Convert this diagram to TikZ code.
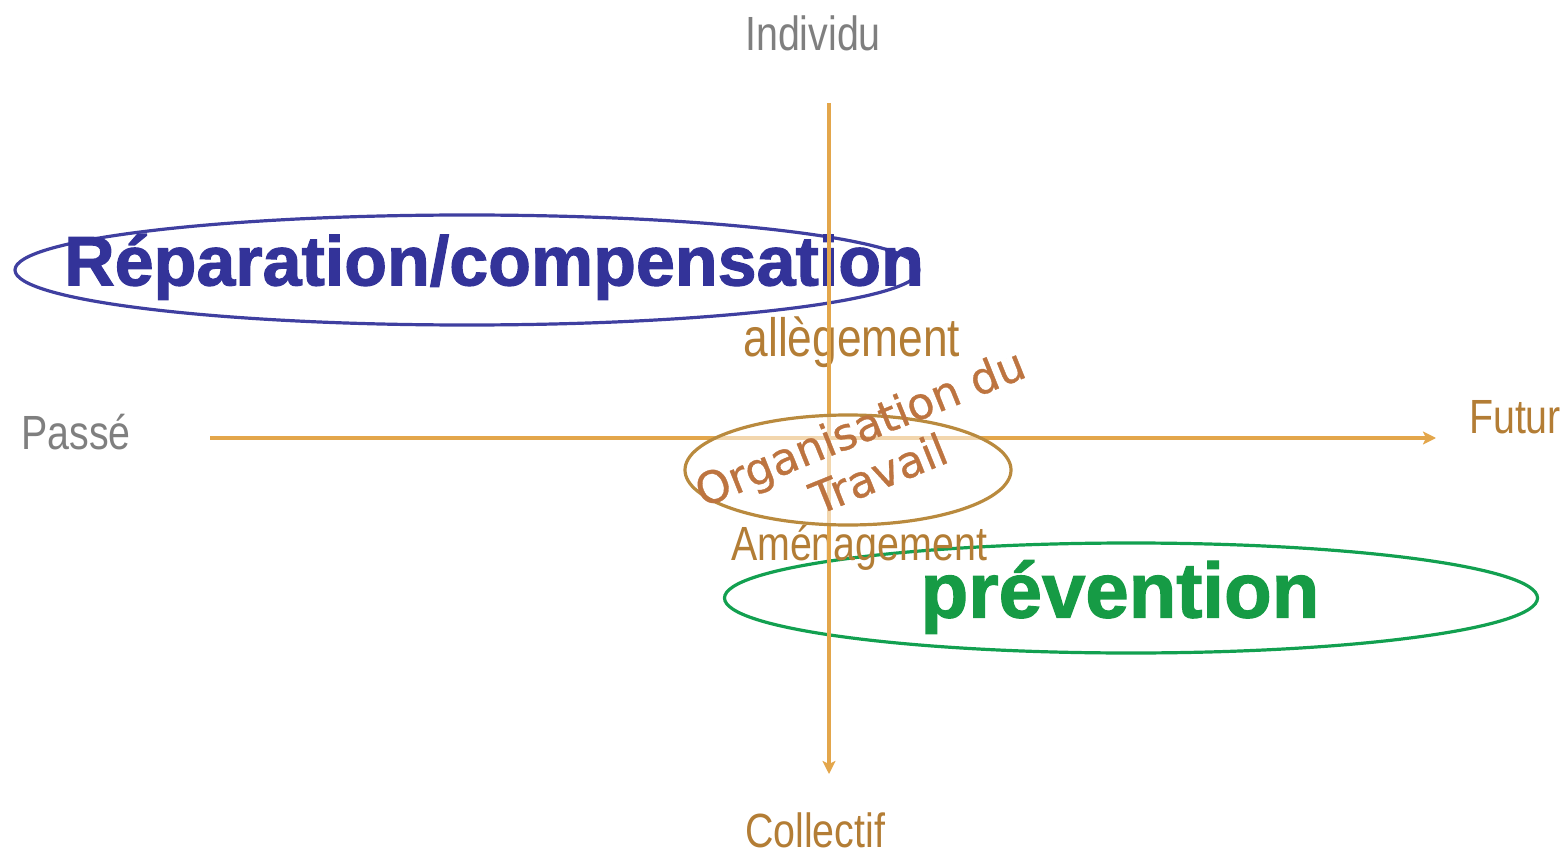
\documentclass[tikz,border=0pt]{standalone}
\usepackage{fontspec}
\setmainfont{Liberation Sans}
\newfontfamily\narrowfont[FakeStretch=0.82]{Liberation Sans}
\newfontfamily\heavyfont[FakeBold=1.6]{Liberation Sans Bold}
\newfontfamily\handfont[FakeBold=0.8]{DejaVu Sans}
\usetikzlibrary{arrows.meta,shapes.geometric}
\definecolor{axisor}{HTML}{E3A64B}
\definecolor{brtext}{HTML}{B37D35}
\definecolor{grtext}{HTML}{7F7F7F}
\definecolor{bluetx}{HTML}{333399}
\definecolor{blueel}{HTML}{3F3FA0}
\definecolor{greentx}{HTML}{169B45}
\definecolor{greenel}{HTML}{12A050}
\definecolor{brownel}{HTML}{B98A3E}
\definecolor{orgtx}{HTML}{BD7440}
\tikzset{
  axis/.style={draw=axisor, line width=4pt, -{Stealth[length=13pt,width=13pt,inset=3pt]}},
  lbl/.style={font=\narrowfont\fontsize{48}{52}\selectfont, inner sep=0pt},
  oval/.style={draw, ellipse, line width=3.2pt},
}
\begin{document}
\begin{tikzpicture}[x=1pt,y=-1pt]
\useasboundingbox (0,0) rectangle (1566,850);
% big labels
\node[oval, draw=blueel, minimum width=904pt, minimum height=110pt] (blueov) at (467,270) {};
\node[inner sep=0pt, text=bluetx, font=\heavyfont\fontsize{70}{74}\selectfont] (rep) at (494,267) {Réparation/compensation};
\node[oval, draw=greenel, minimum width=813pt, minimum height=110pt] (greenov) at (1131,598) {};
\node[inner sep=0pt, text=greentx, font=\heavyfont\fontsize{78}{82}\selectfont] (prev) at (1120,597) {prévention};
% small labels
\node[lbl, text=grtext] (indiv) at (813,33) {Individu};
\node[lbl, text=grtext] (passe) at (76,432) {Passé};
\node[lbl, text=brtext] (futur) at (1515,417) {Futur};
\node[lbl, text=brtext] (coll) at (815,830) {Collectif};
\node[lbl, text=brtext, font=\narrowfont\fontsize{54}{58}\selectfont] (alleg) at (852,342) {allègement};
\node[lbl, text=brtext] (amen) at (859,548) {Aménagement};
% axes
\coordinate (vtop) at (829,103);
\coordinate (vbot) at (829,774);
\coordinate (hleft) at (210,438);
\coordinate (hright) at (1436,438);
\draw[axis] (vtop) -- (vbot);
\draw[axis] (hleft) -- (hright);
% central oval
\node[oval, draw=brownel, fill=white, fill opacity=0.55, minimum width=326pt, minimum height=110pt] (orgov) at (848,470) {};
\node[inner sep=0pt, text=orgtx, rotate=22, align=center, font=\handfont\fontsize{44}{50}\selectfont] (org) at (869,450) {Organisation du\\Travail};
\end{tikzpicture}
\end{document}
